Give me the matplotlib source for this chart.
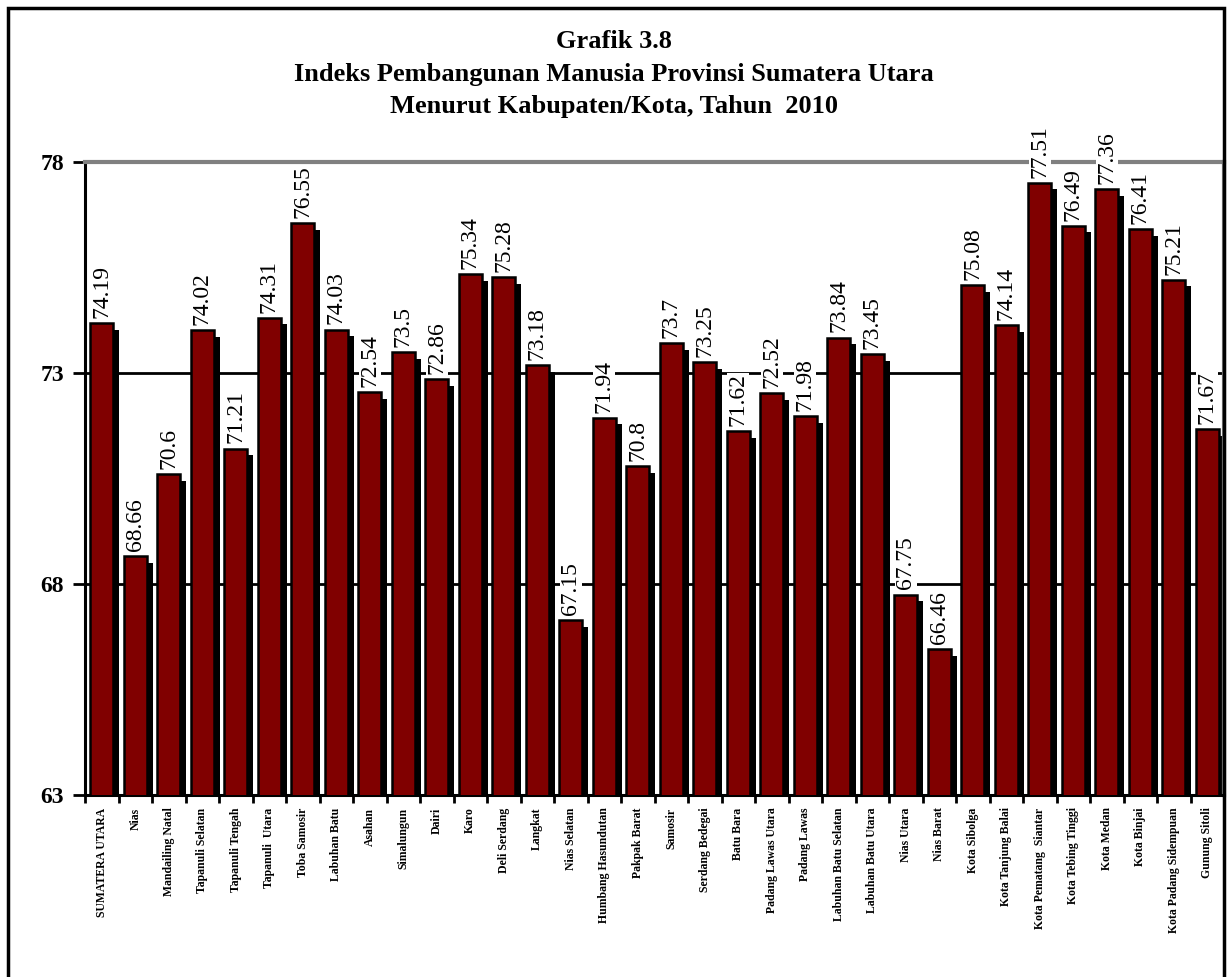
import numpy as np
import matplotlib
matplotlib.use("Agg")
import matplotlib.pyplot as plt
from matplotlib.patches import Rectangle

regions = [
    "SUMATERA UTARA", "Nias", "Mandailing Natal", "Tapanuli Selatan",
    "Tapanuli Tengah", "Tapanuli  Utara", "Toba Samosir", "Labuhan Batu",
    "Asahan", "Simalungun", "Dairi", "Karo", "Deli Serdang", "Langkat",
    "Nias Selatan", "Humbang Hasundutan", "Pakpak Barat", "Samosir",
    "Serdang Bedegai", "Batu Bara", "Padang Lawas Utara", "Padang Lawas",
    "Labuhan Batu Selatan", "Labuhan Batu Utara", "Nias Utara", "Nias Barat",
    "Kota Sibolga", "Kota Tanjung Balai", "Kota Pematang  Siantar",
    "Kota Tebing Tinggi", "Kota Medan", "Kota Binjai",
    "Kota Padang Sidempuan", "Gunung Sitoli",
]
ipm_2010 = [
    74.19, 68.66, 70.6, 74.02, 71.21, 74.31, 76.55, 74.03, 72.54, 73.5,
    72.86, 75.34, 75.28, 73.18, 67.15, 71.94, 70.8, 73.7, 73.25, 71.62,
    72.52, 71.98, 73.84, 73.45, 67.75, 66.46, 75.08, 74.14, 77.51, 76.49,
    77.36, 76.41, 75.21, 71.67,
]
y_ticks = [63, 68, 73, 78]

SERIF = ["Liberation Serif", "DejaVu Serif"]
BAR = "#800000"

fig = plt.figure(figsize=(12.27, 9.77), dpi=100)
ax = fig.add_axes([85 / 1227, 1 - 795 / 977, (1224 - 85) / 1227, (795 - 162) / 977])

x = np.arange(len(regions))
vals = np.array(ipm_2010)

# drop shadow first, then the bars on top
ax.bar(x + 0.17, vals - 0.16, width=0.7, color="black", zorder=2)
ax.bar(x, vals, width=0.7, color=BAR, edgecolor="black", linewidth=1.8, zorder=3)

for xi, v in zip(x, vals):
    ax.text(xi, v + 0.12, f"{v:g}", rotation=90, ha="center", va="bottom",
            fontsize=17, family=SERIF, zorder=4,
            bbox=dict(facecolor="white", edgecolor="none", pad=0.5))

ax.set_xlim(-0.5, len(regions) - 0.5)
ax.set_ylim(63, 78)
ax.set_yticks(y_ticks)
ax.set_yticklabels([str(t) for t in y_ticks], fontsize=17, fontweight="bold",
                   family=SERIF)
ax.tick_params(axis="y", length=9, width=2, pad=6)

ax.set_xticks(x)
ax.set_xticklabels(regions, rotation=90, fontsize=8.5, fontweight="bold",
                   family=SERIF, va="top")
ax.tick_params(axis="x", length=0, pad=9)
ax.set_xticks(np.arange(-0.5, len(regions)), minor=True)
ax.tick_params(axis="x", which="minor", length=6, width=2)

for yv in (68, 73):
    ax.axhline(yv, color="black", lw=2, zorder=1)

ax.spines["left"].set_linewidth(2.2)
ax.spines["bottom"].set_linewidth(2.2)
ax.spines["top"].set_color("#808080")
ax.spines["top"].set_linewidth(3)
ax.spines["right"].set_color("#808080")
ax.spines["right"].set_linewidth(3)

fig.text(0.5, 1 - 42 / 977, "Grafik 3.8", ha="center", va="center",
         fontsize=19, fontweight="bold", family=SERIF)
fig.text(0.5, 1 - 74 / 977, "Indeks Pembangunan Manusia Provinsi Sumatera Utara",
         ha="center", va="center", fontsize=19, fontweight="bold", family=SERIF)
fig.text(0.5, 1 - 106 / 977, "Menurut Kabupaten/Kota, Tahun  2010",
         ha="center", va="center", fontsize=19, fontweight="bold", family=SERIF)

# outer frame around the whole chart
fig.patches.append(Rectangle((8 / 1227, -0.01), (1224 - 8) / 1227, 1 - 8 / 977 + 0.01,
                             transform=fig.transFigure, fill=False,
                             edgecolor="black", linewidth=2.5))

fig.savefig("out.png", dpi=100)
